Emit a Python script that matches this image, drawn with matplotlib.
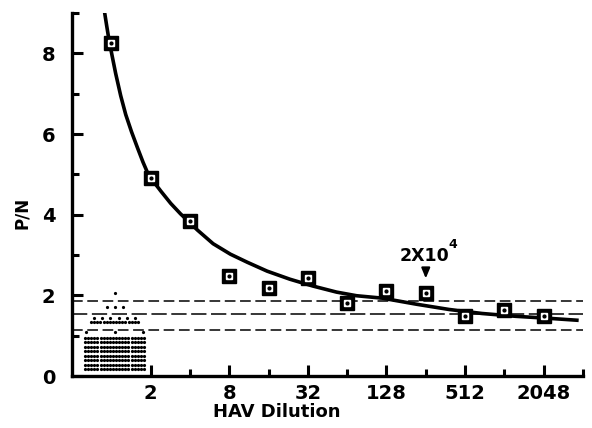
import matplotlib
matplotlib.use("Agg")
import matplotlib.pyplot as plt
from matplotlib.ticker import NullFormatter
import numpy as np

plt.rcParams["font.family"] = ["DejaVu Sans"]
plt.rcParams["font.weight"] = "bold"

# HAV dilution series (positive sample), P/N ratio
dilution = [1, 2, 4, 8, 16, 32, 64, 128, 256, 512, 1024, 2048]
pn_ratio = [8.25, 4.90, 3.85, 2.48, 2.18, 2.42, 1.81, 2.11, 2.06, 1.50, 1.64, 1.50]

# fitted curve
curve_x = [0.88, 0.92, 0.96, 1.02, 1.08, 1.18, 1.29, 1.43, 1.59, 1.75, 1.93, 2.4,
           2.85, 3.39, 4.0, 4.56, 6.02, 8.17, 11.0, 15.6, 23.3, 35.0, 53.1, 75.6, 119, 217,
           385, 690, 1252, 2241, 3795]
curve_y = [9.10, 8.70, 8.33, 7.90, 7.50, 6.95, 6.48, 6.05, 5.65, 5.30, 4.98, 4.58,
           4.28, 4.02, 3.80, 3.62, 3.28, 3.02, 2.82, 2.60, 2.40, 2.23, 2.08, 1.99, 1.93, 1.78,
           1.65, 1.55, 1.48, 1.43, 1.38]

# cutoff lines
cutoffs = [1.87, 1.53, 1.14]

# negative controls: P/N level of each row of dots and number of dots in it
ctrl_rows_y = [2.05, 1.70, 1.45, 1.33, 1.08, 0.95, 0.85, 0.73, 0.63, 0.50, 0.40, 0.28, 0.18]
ctrl_rows_n = [1, 3, 6, 16, 3, 20, 20, 20, 20, 20, 20, 20, 20]
# half width (px) of each row, layout only
ctrl_rows_half = [0, 8, 20.5, 23.5, 28.5, 29.5, 29.5, 29.5, 29.5, 29.5, 29.5, 29.5, 29.5]

xticks = [2, 8, 32, 128, 512, 2048]
xminor = [4, 16, 64, 256, 1024, 4096]
yticks = [0, 2, 4, 6, 8]
yminor = [1, 3, 5, 7, 9]

fig = plt.figure(figsize=(5.92, 4.28), dpi=100)
ax = fig.add_axes([72 / 592, 52 / 428, 511 / 592, 363 / 428])

ax.set_xscale("log", base=2)
ax.set_xlim(0.5, 4096)
ax.set_ylim(0, 9)

ax.plot(curve_x, curve_y, color="black", lw=2.6, solid_capstyle="butt",
        solid_joinstyle="round", zorder=3)

dash_styles = [(0, (7, 3)), (0, (10, 3)), (0, (7, 3))]
for yc, ds in zip(cutoffs, dash_styles):
    ax.plot([0.5, 4096], [yc, yc], color="black", lw=1.1, linestyle=ds, zorder=2)

ax.plot(dilution, pn_ratio, "s", ms=10.5, mfc="black", mec="black", zorder=4)
ax.plot(dilution, pn_ratio, "s", ms=5, mfc="white", mec="white", zorder=5)
ax.plot(dilution, pn_ratio, "o", ms=2, mfc="black", mec="black", zorder=6)

ax.annotate("", xy=(256, 2.35), xytext=(256, 2.7),
            arrowprops=dict(arrowstyle="-|>,head_width=0.25,head_length=0.6",
                            color="black", lw=1.5))
ax.text(250, 2.75, "2X10", ha="center", va="bottom", fontsize=12.5, fontweight="bold")
ax.text(380, 3.1, "4", ha="left", va="bottom", fontsize=9, fontweight="bold")

for side in ["top", "right"]:
    ax.spines[side].set_visible(False)
for side in ["left", "bottom"]:
    ax.spines[side].set_linewidth(2.4)

ax.set_xticks(xticks)
ax.set_xticklabels([str(t) for t in xticks])
ax.set_xticks(xminor, minor=True)
ax.xaxis.set_minor_formatter(NullFormatter())
ax.set_yticks(yticks)
ax.set_yticks(yminor, minor=True)
ax.tick_params(which="major", direction="in", length=8, width=2.2, labelsize=14, pad=6)
ax.tick_params(axis="y", which="major", pad=12)
ax.tick_params(which="minor", direction="in", length=5, width=2.2)
for lab in ax.get_xticklabels() + ax.get_yticklabels():
    lab.set_fontweight("bold")

ax.set_xlabel("HAV Dilution", fontsize=13, fontweight="bold")
ax.xaxis.set_label_coords(0.40, -0.075)
ax.set_ylabel("P/N", fontsize=12, fontweight="bold")
ax.yaxis.set_label_coords(-0.08, 0.45)

# negative control dots on an overlay axes (x in pixels from the y axis)
ax2 = fig.add_axes(ax.get_position(), facecolor="none")
ax2.set_xlim(0, 511)
ax2.set_ylim(0, 9)
ax2.axis("off")
centre = 42.5
for yr, n, hw in zip(ctrl_rows_y, ctrl_rows_n, ctrl_rows_half):
    xs = np.linspace(centre - hw, centre + hw, n)
    ax2.plot(xs, [yr] * n, "o", ms=2.3, color="black", mec="none", zorder=3)

fig.savefig("out.png", dpi=100)
